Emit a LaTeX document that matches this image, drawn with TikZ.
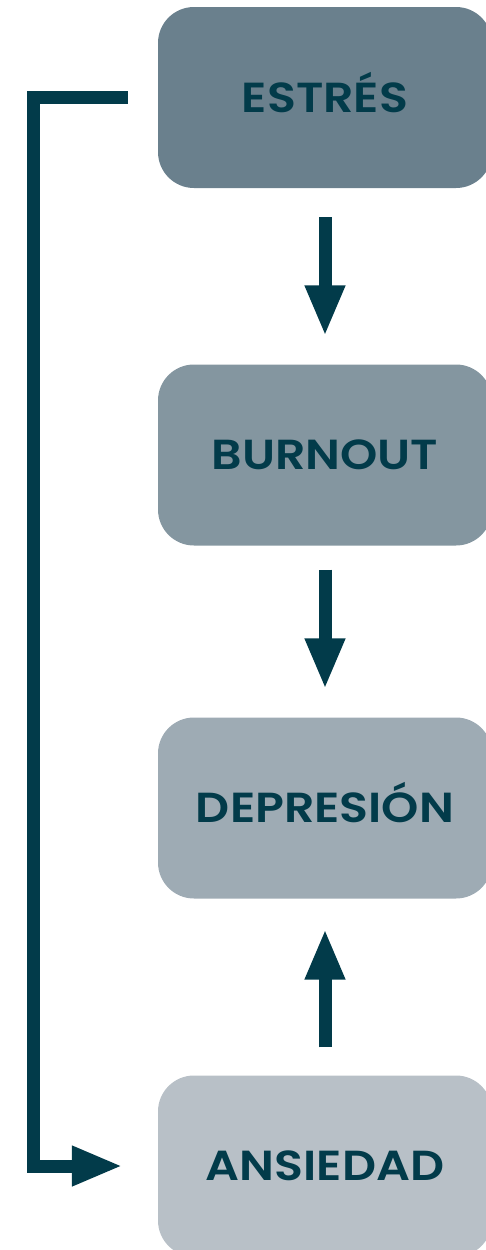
\documentclass[tikz,border=0pt]{standalone}
\usepackage{fontspec}
\setmainfont{Poppins}[BoldFont={Poppins SemiBold}, FakeStretch=1.13]
\usetikzlibrary{arrows.meta}
\definecolor{darkteal}{HTML}{023B4A}
\definecolor{stepone}{HTML}{6A808D}
\definecolor{steptwo}{HTML}{8496A0}
\definecolor{stepthree}{HTML}{9EABB4}
\definecolor{stepfour}{HTML}{B8C0C7}
\tikzset{
    stage/.style={rectangle, rounded corners=36pt, minimum width=334pt,
    	minimum height=181pt, text height=29.5pt, text depth=0pt,
    	text=darkteal, font=\fontsize{42}{46}\selectfont\bfseries}
}
\tikzset{
    every edge/.append style={line width=13pt, color=darkteal,
    	-{Triangle[width=37pt,length=51pt]}}
}

\begin{document}
\begin{tikzpicture}[x=1pt, y=-1pt]
	\useasboundingbox (0,0) rectangle (486,1250);
	\node (estres) [stage, fill=stepone] at (325, 97.5) {ESTRÉS};
	\node (burnout) [stage, fill=steptwo] at (325, 455) {BURNOUT};
	\node (depresion) [stage, fill=stepthree] at (325, 808) {DEPRESIÓN};
	\node (ansiedad) [stage, fill=stepfour] at (325, 1166) {ANSIEDAD};
	\coordinate (corner) at (33, 97.5);
	
	\draw (estres) edge [shorten <=29pt, shorten >=28pt] (burnout);
	\draw (burnout) edge [shorten <=24pt, shorten >=28pt] (depresion);
	\draw (ansiedad) edge [shorten <=28pt, shorten >=30pt] (depresion);
	
	\draw [line width=13pt, color=darkteal, shorten <=30pt, shorten >=35pt,
		-{Triangle[width=37pt,length=51pt]}]
		(estres.west) -- (corner) |- (ansiedad.west);
\end{tikzpicture}
\end{document}
